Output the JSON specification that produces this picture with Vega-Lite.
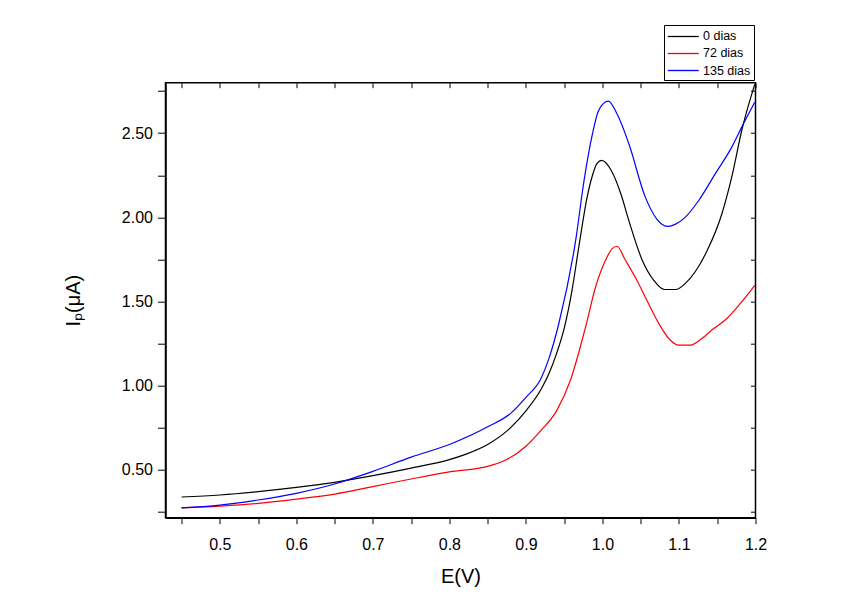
{
  "$schema": "https://vega.github.io/schema/vega-lite/v6.json",
  "width": 590,
  "height": 435,
  "autosize": {"type": "none"},
  "padding": {"left": 165.5, "top": 82.7, "right": 112.5, "bottom": 98.3},
  "background": "white",
  "config": {
    "font": "Liberation Sans",
    "view": {"stroke": "black", "strokeWidth": 1.5},
    "axis": {"domainColor": "black", "domainWidth": 1.5, "tickColor": "black", "tickWidth": 1, "labelColor": "black", "titleColor": "black", "grid": false, "labelFont": "Liberation Sans", "titleFont": "Liberation Sans", "titleFontWeight": "normal"}
  },
  "data": {"values": [
    {"E": 0.45, "I": 0.338, "s": "0 dias"},
    {"E": 0.50, "I": 0.350, "s": "0 dias"},
    {"E": 0.55, "I": 0.370, "s": "0 dias"},
    {"E": 0.60, "I": 0.395, "s": "0 dias"},
    {"E": 0.65, "I": 0.425, "s": "0 dias"},
    {"E": 0.70, "I": 0.465, "s": "0 dias"},
    {"E": 0.75, "I": 0.510, "s": "0 dias"},
    {"E": 0.80, "I": 0.560, "s": "0 dias"},
    {"E": 0.82, "I": 0.590, "s": "0 dias"},
    {"E": 0.85, "I": 0.650, "s": "0 dias"},
    {"E": 0.88, "I": 0.750, "s": "0 dias"},
    {"E": 0.90, "I": 0.850, "s": "0 dias"},
    {"E": 0.92, "I": 0.980, "s": "0 dias"},
    {"E": 0.93, "I": 1.070, "s": "0 dias"},
    {"E": 0.94, "I": 1.190, "s": "0 dias"},
    {"E": 0.95, "I": 1.340, "s": "0 dias"},
    {"E": 0.96, "I": 1.560, "s": "0 dias"},
    {"E": 0.97, "I": 1.850, "s": "0 dias"},
    {"E": 0.98, "I": 2.120, "s": "0 dias"},
    {"E": 0.987, "I": 2.250, "s": "0 dias"},
    {"E": 0.993, "I": 2.320, "s": "0 dias"},
    {"E": 0.999, "I": 2.338, "s": "0 dias"},
    {"E": 1.0115, "I": 2.278, "s": "0 dias"},
    {"E": 1.024, "I": 2.140, "s": "0 dias"},
    {"E": 1.0345, "I": 1.980, "s": "0 dias"},
    {"E": 1.052, "I": 1.745, "s": "0 dias"},
    {"E": 1.067, "I": 1.626, "s": "0 dias"},
    {"E": 1.081, "I": 1.571, "s": "0 dias"},
    {"E": 1.096, "I": 1.571, "s": "0 dias"},
    {"E": 1.108, "I": 1.606, "s": "0 dias"},
    {"E": 1.121, "I": 1.675, "s": "0 dias"},
    {"E": 1.137, "I": 1.804, "s": "0 dias"},
    {"E": 1.156, "I": 2.020, "s": "0 dias"},
    {"E": 1.169, "I": 2.240, "s": "0 dias"},
    {"E": 1.182, "I": 2.516, "s": "0 dias"},
    {"E": 1.199, "I": 2.790, "s": "0 dias"},

    {"E": 0.45, "I": 0.273, "s": "72 dias"},
    {"E": 0.50, "I": 0.284, "s": "72 dias"},
    {"E": 0.55, "I": 0.300, "s": "72 dias"},
    {"E": 0.60, "I": 0.325, "s": "72 dias"},
    {"E": 0.65, "I": 0.355, "s": "72 dias"},
    {"E": 0.70, "I": 0.400, "s": "72 dias"},
    {"E": 0.75, "I": 0.445, "s": "72 dias"},
    {"E": 0.80, "I": 0.487, "s": "72 dias"},
    {"E": 0.85, "I": 0.520, "s": "72 dias"},
    {"E": 0.87, "I": 0.550, "s": "72 dias"},
    {"E": 0.90, "I": 0.640, "s": "72 dias"},
    {"E": 0.92, "I": 0.735, "s": "72 dias"},
    {"E": 0.94, "I": 0.850, "s": "72 dias"},
    {"E": 0.958, "I": 1.030, "s": "72 dias"},
    {"E": 0.978, "I": 1.349, "s": "72 dias"},
    {"E": 0.991, "I": 1.586, "s": "72 dias"},
    {"E": 1.004, "I": 1.745, "s": "72 dias"},
    {"E": 1.0127, "I": 1.814, "s": "72 dias"},
    {"E": 1.019, "I": 1.828, "s": "72 dias"},
    {"E": 1.030, "I": 1.745, "s": "72 dias"},
    {"E": 1.045, "I": 1.626, "s": "72 dias"},
    {"E": 1.058, "I": 1.507, "s": "72 dias"},
    {"E": 1.0736, "I": 1.369, "s": "72 dias"},
    {"E": 1.0866, "I": 1.280, "s": "72 dias"},
    {"E": 1.0997, "I": 1.240, "s": "72 dias"},
    {"E": 1.115, "I": 1.240, "s": "72 dias"},
    {"E": 1.130, "I": 1.280, "s": "72 dias"},
    {"E": 1.1453, "I": 1.339, "s": "72 dias"},
    {"E": 1.160, "I": 1.388, "s": "72 dias"},
    {"E": 1.180, "I": 1.487, "s": "72 dias"},
    {"E": 1.199, "I": 1.596, "s": "72 dias"},

    {"E": 0.45, "I": 0.273, "s": "135 dias"},
    {"E": 0.50, "I": 0.290, "s": "135 dias"},
    {"E": 0.55, "I": 0.320, "s": "135 dias"},
    {"E": 0.60, "I": 0.360, "s": "135 dias"},
    {"E": 0.65, "I": 0.415, "s": "135 dias"},
    {"E": 0.70, "I": 0.490, "s": "135 dias"},
    {"E": 0.75, "I": 0.575, "s": "135 dias"},
    {"E": 0.80, "I": 0.650, "s": "135 dias"},
    {"E": 0.85, "I": 0.755, "s": "135 dias"},
    {"E": 0.88, "I": 0.835, "s": "135 dias"},
    {"E": 0.90, "I": 0.930, "s": "135 dias"},
    {"E": 0.92, "I": 1.045, "s": "135 dias"},
    {"E": 0.93, "I": 1.160, "s": "135 dias"},
    {"E": 0.943, "I": 1.369, "s": "135 dias"},
    {"E": 0.965, "I": 1.863, "s": "135 dias"},
    {"E": 0.976, "I": 2.220, "s": "135 dias"},
    {"E": 0.987, "I": 2.497, "s": "135 dias"},
    {"E": 0.995, "I": 2.635, "s": "135 dias"},
    {"E": 1.0075, "I": 2.690, "s": "135 dias"},
    {"E": 1.019, "I": 2.615, "s": "135 dias"},
    {"E": 1.0345, "I": 2.437, "s": "135 dias"},
    {"E": 1.056, "I": 2.120, "s": "135 dias"},
    {"E": 1.071, "I": 1.990, "s": "135 dias"},
    {"E": 1.0857, "I": 1.946, "s": "135 dias"},
    {"E": 1.095, "I": 1.958, "s": "135 dias"},
    {"E": 1.108, "I": 2.000, "s": "135 dias"},
    {"E": 1.1258, "I": 2.100, "s": "135 dias"},
    {"E": 1.1475, "I": 2.260, "s": "135 dias"},
    {"E": 1.169, "I": 2.417, "s": "135 dias"},
    {"E": 1.182, "I": 2.536, "s": "135 dias"},
    {"E": 1.199, "I": 2.684, "s": "135 dias"}
  ]},
  "layer": [
    {
      "mark": {"type": "line", "strokeWidth": 1.2, "interpolate": "monotone"},
      "encoding": {
        "x": {"field": "E", "type": "quantitative", "scale": {"domain": [0.429, 1.2], "nice": false, "zero": false},
          "axis": {"orient": "bottom", "title": "E(V)", "titleFontSize": 20, "titlePadding": 14, "values": [0.45,0.5,0.55,0.6,0.65,0.7,0.75,0.8,0.85,0.9,0.95,1.0,1.05,1.1,1.15,1.2], "format": ".1f", "labelExpr": "round(datum.value*100) % 10 == 0 ? datum.label : ''", "labelFontSize": 16, "tickSize": 6, "labelPadding": 13, "labelOverlap": false, "labelFlush": false}},
        "y": {"field": "I", "type": "quantitative", "scale": {"domain": [0.215, 2.8], "nice": false, "zero": false},
          "axis": {"orient": "left", "title": "Iₚ(μA)", "titleFontSize": 20, "titlePadding": 38, "values": [0.25,0.5,0.75,1.0,1.25,1.5,1.75,2.0,2.25,2.5,2.75], "format": ".2f", "labelExpr": "round(datum.value*100) % 50 == 0 ? datum.label : ''", "labelFontSize": 16, "tickSize": 8, "labelPadding": 5, "labelOverlap": false, "labelFlush": false}},
        "color": {"field": "s", "type": "nominal", "scale": {"domain": ["0 dias", "72 dias", "135 dias"], "range": ["black", "red", "blue"]},
          "legend": {"title": null, "orient": "none", "legendX": 498.5, "legendY": -57.7, "direction": "vertical", "strokeColor": "black", "fillColor": "white", "padding": 3, "symbolType": "M-1,0H3", "symbolSize": 240, "symbolStrokeWidth": 1.3, "labelFontSize": 12.5, "labelOffset": 19, "rowPadding": 2, "labelFont": "Liberation Sans"}}
      }
    },
    {
      "mark": {"type": "line", "opacity": 0},
      "encoding": {
        "x": {"field": "E", "type": "quantitative", "axis": {"orient": "top", "title": null, "labels": false, "domain": false, "values": [0.45,0.5,0.55,0.6,0.65,0.7,0.75,0.8,0.85,0.9,0.95,1.0,1.05,1.1,1.15,1.2], "tickSize": -5}},
        "y": {"field": "I", "type": "quantitative", "axis": {"orient": "right", "title": null, "labels": false, "domain": false, "values": [0.25,0.5,0.75,1.0,1.25,1.5,1.75,2.0,2.25,2.5,2.75], "tickSize": -5}},
        "detail": {"field": "s", "type": "nominal"}
      }
    }
  ],
  "resolve": {"axis": {"x": "independent", "y": "independent"}}
}
